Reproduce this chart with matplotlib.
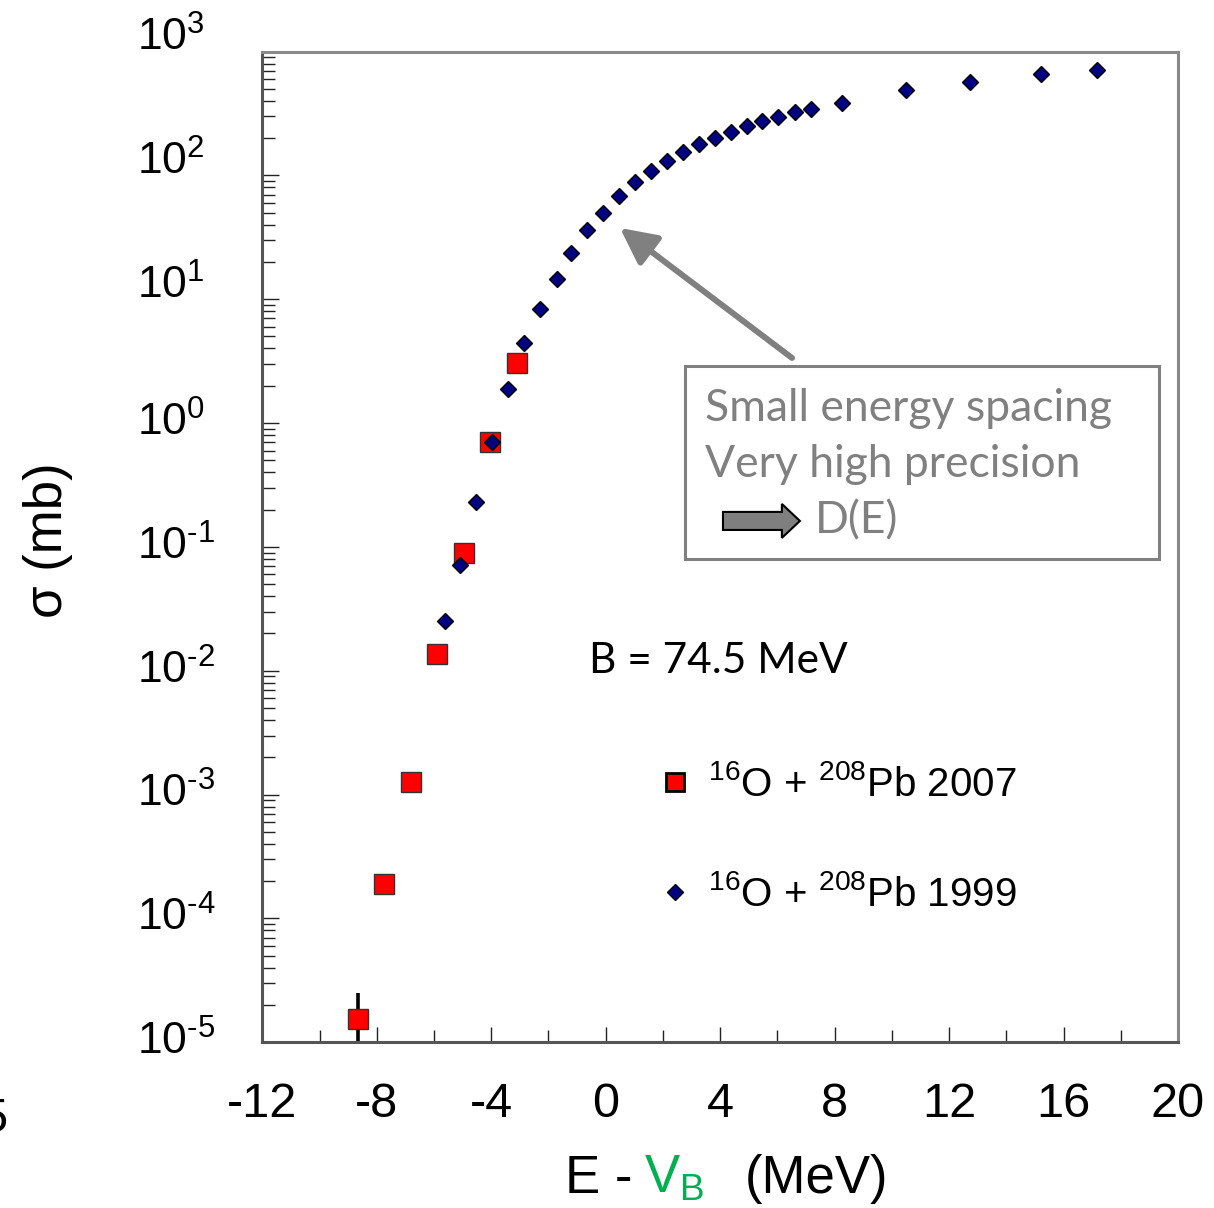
import matplotlib
matplotlib.use('Agg')
import matplotlib.pyplot as plt
from matplotlib import transforms
from matplotlib.lines import Line2D
from matplotlib.patches import Rectangle, FancyArrow
from matplotlib.ticker import FixedLocator, LogLocator, NullFormatter, MultipleLocator

plt.rcParams['font.family'] = ['Liberation Sans', 'DejaVu Sans']
plt.rcParams['mathtext.fontset'] = 'custom'
plt.rcParams['mathtext.rm'] = 'Liberation Sans'
plt.rcParams['mathtext.it'] = 'Liberation Sans:italic'
plt.rcParams['mathtext.bf'] = 'Liberation Sans:bold'

# ---------------- data ----------------
e_2007 = [-8.65, -7.73, -6.80, -5.88, -4.95, -4.03, -3.09]
sigma_2007 = [1.55e-5, 1.90e-4, 1.26e-3, 0.0137, 0.089, 0.70, 3.04]
err_e_2007 = [-8.65]
err_sigma_2007 = [1.55e-5]
err_low_2007 = [1.05e-5]
err_high_2007 = [0.94e-5]

e_1999 = [-5.63, -5.08, -4.52, -3.98, -3.42, -2.87, -2.31, -1.70, -1.21, -0.65,
          -0.08, 0.48, 1.03, 1.58, 2.14, 2.71, 3.27, 3.81, 4.37, 4.93,
          5.47, 6.03, 6.60, 7.16, 8.27, 10.50, 12.73, 15.20, 17.17]
sigma_1999 = [0.0252, 0.0714, 0.232, 0.70, 1.87, 4.40, 8.4, 14.6, 23.7, 36.0,
              50.1, 68.1, 87.6, 107.8, 130.6, 154.3, 178.0, 199.0, 225.0, 249.0,
              275.0, 298.0, 325.0, 345.0, 387.0, 489.0, 564.0, 658.0, 713.0]

x_ticks = [-12, -8, -4, 0, 4, 8, 12, 16, 20]
x_tick_labels = ['-12', '-8', '-4', '0', '4', '8', '12', '16', '20']
y_exponents = [3, 2, 1, 0, -1, -2, -3, -4, -5]

label_2007 = r'$^{16}$O + $^{208}$Pb 2007'
label_1999 = r'$^{16}$O + $^{208}$Pb 1999'
barrier_text = 'B = 74.5 MeV'
box_lines = ['Small energy spacing', 'Very high precision', 'D(E)']

# ---------------- figure ----------------
W, H = 1214, 1208
fig = plt.figure(figsize=(W / 100, H / 100), dpi=100)
ax = fig.add_axes([262.3 / W, 1 - 1042.3 / H, 915.7 / W, 990.8 / H])
ax.set_xlim(-12, 20)
ax.set_yscale('log')
ax.set_ylim(1e-5, 1e3)

for side in ['left', 'bottom']:
    ax.spines[side].set_color('#555555')
    ax.spines[side].set_linewidth(2.2)
for side in ['top', 'right']:
    ax.spines[side].set_color('#8a8a8a')
    ax.spines[side].set_linewidth(2.2)

ax.xaxis.set_major_locator(FixedLocator(x_ticks))
ax.set_xticklabels(x_tick_labels)
ax.xaxis.set_minor_locator(MultipleLocator(2))
ax.tick_params(axis='x', which='major', direction='in', length=11, width=1.0,
               color='#222222', labelsize=35, pad=28.5, top=False)
ax.tick_params(axis='x', which='minor', direction='in', length=8.5, width=1.0,
               color='#222222', top=False)

ax.yaxis.set_major_locator(LogLocator(base=10, numticks=20))
ax.yaxis.set_minor_locator(LogLocator(base=10, subs=range(2, 10), numticks=20))
ax.yaxis.set_major_formatter(NullFormatter())
ax.yaxis.set_minor_formatter(NullFormatter())
ax.tick_params(axis='y', which='major', direction='in', length=12.5, width=1.0,
               color='#222222', right=False)
ax.tick_params(axis='y', which='minor', direction='in', length=9.5, width=1.0,
               color='#222222', right=False)

# y tick labels as text, left aligned
blend = transforms.blended_transform_factory(fig.transFigure, ax.transData)
for k in y_exponents:
    off = 13 if k > 0 else 0
    tr = blend + transforms.ScaledTranslation(0, off / 100, fig.dpi_scale_trans)
    if k < 0:
        s = r'$\mathregular{10^{\text{-}%d}}$' % abs(k)
    else:
        s = r'$\mathregular{10^{%d}}$' % k
    ax.text(137 / W, 10.0 ** k, s, transform=tr,
            ha='left', va='center', fontsize=32, clip_on=False)

# data
ax.errorbar(err_e_2007, err_sigma_2007, yerr=[err_low_2007, err_high_2007],
            fmt='none', ecolor='black', elinewidth=2.6, capsize=0, zorder=2)
ax.plot(e_2007, sigma_2007, ls='none', marker='s', ms=14, mfc='#ff0000',
        mec='#333333', mew=1.0, zorder=3)
ax.plot(e_1999, sigma_1999, ls='none', marker='D', ms=8.2, mfc='#000080',
        mec='black', mew=1.0, zorder=4)

# legend
handles = [Line2D([], [], ls='none', marker='s', ms=12.5, mfc='#ff0000', mec='black', mew=2.0),
           Line2D([], [], ls='none', marker='D', ms=7.8, mfc='#000080', mec='black', mew=1.0)]
leg = ax.legend(handles, [label_2007, label_1999], loc='upper left',
                bbox_to_anchor=(0.4115, 0.296), frameon=False, fontsize=29,
                labelspacing=1.75, handletextpad=0.3, handlelength=1.0,
                borderaxespad=0)

# barrier text
ax.text(0.3565, 0.3852, barrier_text, transform=ax.transAxes, fontsize=30.5,
        family=['Lato', 'DejaVu Sans'], ha='left', va='center', color='black')

# annotation box
box = Rectangle((0.4616, 0.4878), 0.5177, 0.1948, transform=ax.transAxes,
                facecolor='white', edgecolor='#808080', lw=2.2, zorder=5)
ax.add_patch(box)
ax.text(0.4836, 0.6395, box_lines[0], transform=ax.transAxes, fontsize=32,
        family=['Lato', 'DejaVu Sans'], color='#808080', ha='left', va='center', zorder=6)
ax.text(0.4836, 0.5835, box_lines[1], transform=ax.transAxes, fontsize=32,
        family=['Lato', 'DejaVu Sans'], color='#808080', ha='left', va='center', zorder=6)
ax.text(0.6037, 0.5262, box_lines[2], transform=ax.transAxes, fontsize=32,
        family=['Lato', 'DejaVu Sans'], color='#808080', ha='left', va='center', zorder=6)
ax.add_patch(FancyArrow(0.5031, 0.5262, 0.0840, 0.0, width=0.0182,
                        head_width=0.0343, head_length=0.0197,
                        length_includes_head=True, transform=ax.transAxes,
                        facecolor='#7f7f7f', edgecolor='black', lw=1.5, zorder=6))

# pointing arrow
ax.annotate('', xy=(0.3906, 0.8219), xytext=(0.5785, 0.6907),
            xycoords='axes fraction', textcoords='axes fraction',
            arrowprops=dict(arrowstyle='-|>,head_length=1.1,head_width=0.55',
                            mutation_scale=20, lw=4.3, color='#808080',
                            shrinkA=0, shrinkB=0), zorder=6)

# axis labels
fig.text(48 / W, 1 - 540 / H, '\u03c3 (mb)', rotation=90, ha='center',
         va='center', fontsize=38)
base_y = 1 - 1193 / H
t1 = fig.text(565 / W, base_y, 'E - ', ha='left', va='baseline', fontsize=38)
t2 = fig.text(0, base_y, r'$\mathregular{V_B}$', ha='left', va='baseline',
              fontsize=38, color='#00b050')
t3 = fig.text(0, base_y, '(MeV)', ha='left', va='baseline', fontsize=38)
fig.canvas.draw()
r = fig.canvas.get_renderer()
bb1 = t1.get_window_extent(r)
t2.set_x((bb1.x1 - 3) / W)
fig.canvas.draw()
bb2 = t2.get_window_extent(r)
t3.set_x((bb2.x1 + 40) / W)

# stray clipped glyph at left edge
fig.text(-20 / W, 1 - 1120 / H, '5', ha='left', va='center', fontsize=35)

fig.savefig('out.png', dpi=100)
